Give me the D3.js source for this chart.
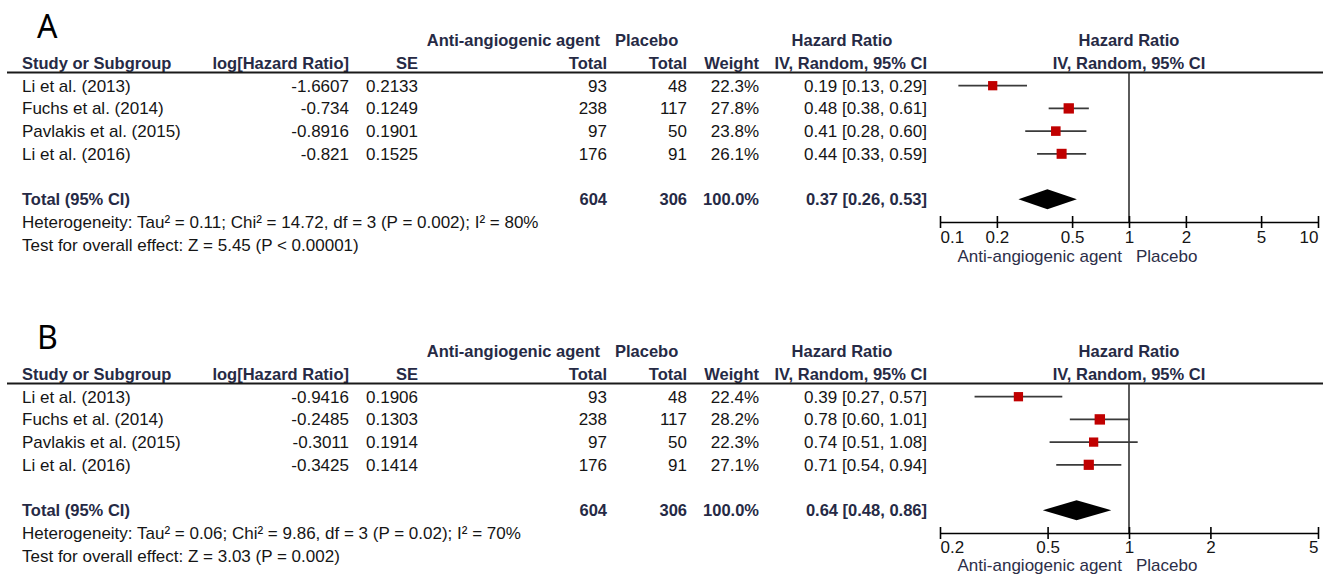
<!DOCTYPE html>
<html>
<head>
<meta charset="utf-8">
<script src="https://cdn.jsdelivr.net/npm/d3@7"></script>
<style>
  html, body { margin: 0; padding: 0; background: #fff; }
  svg { display: block; }
  .reg { font-family: "Liberation Sans", Arial, sans-serif; font-size: 17px; fill: #151515; }
  .hdr { font-family: "Liberation Sans", Arial, sans-serif; font-size: 16.5px; font-weight: bold; fill: #262a45; }
  .side { font-family: "Liberation Sans", Arial, sans-serif; font-size: 17px; fill: #2c2e48; }
  .panel { font-family: "Noto Sans", "Open Sans", sans-serif; font-size: 32px; fill: #000; }
</style>
</head>
<body>
<svg id="chart" width="1323" height="575"></svg>
<script>
// Studies included in both meta-analyses
const studies = ["Li et al. (2013)", "Fuchs et al. (2014)", "Pavlakis et al. (2015)", "Li et al. (2016)"];
const expTotals = [93, 238, 97, 176];
const ctlTotals = [48, 117, 50, 91];

// Panel A
const logHrA = [-1.6607, -0.734, -0.8916, -0.821];
const seA = [0.2133, 0.1249, 0.1901, 0.1525];
const weightA = [22.3, 27.8, 23.8, 26.1];
const pooledA = [0.37, 0.26, 0.53];          // estimate, lower, upper
const hetA = "Heterogeneity: Tau\u00B2 = 0.11; Chi\u00B2 = 14.72, df = 3 (P = 0.002); I\u00B2 = 80%";
const testA = "Test for overall effect: Z = 5.45 (P < 0.00001)";
const domainA = [0.1, 10];
const ticksA = [0.1, 0.2, 0.5, 1, 2, 5, 10];

// Panel B
const logHrB = [-0.9416, -0.2485, -0.3011, -0.3425];
const seB = [0.1906, 0.1303, 0.1914, 0.1414];
const weightB = [22.4, 28.2, 22.3, 27.1];
const pooledB = [0.64, 0.48, 0.86];
const hetB = "Heterogeneity: Tau\u00B2 = 0.06; Chi\u00B2 = 9.86, df = 3 (P = 0.02); I\u00B2 = 70%";
const testB = "Test for overall effect: Z = 3.03 (P = 0.002)";
const domainB = [0.2, 5];
const ticksB = [0.2, 0.5, 1, 2, 5];

const expLabel = "Anti-angiogenic agent";
const ctlLabel = "Placebo";

const svg = d3.select("#chart");
const f2 = d3.format(".2f");
const f1 = d3.format(".1f");

// column anchors
const col = { study: 22, logHr: 349, se: 418, exp: 607, ctl: 687, weight: 759, ci: 927 };
const plotL = 940, plotR = 1318;

function drawPanel(letter, top, logHr, se, weight, pooled, het, test, domain, ticks, tickY, sideY) {
  const g = svg.append("g").attr("transform", `translate(0,${top})`);
  const rowY = i => 85.7 + 22.7 * i;      // vertical centre of table row i
  const base = i => rowY(i) + 6;          // text baseline of row i

  g.append("text").attr("class", "panel").attr("x", 37).attr("y", 38).text(letter);

  const x = d3.scaleLog().domain(domain).range([plotL, plotR]);

  // header rows
  const h1 = base(-2), h2 = base(-1);
  g.append("text").attr("class", "hdr").attr("x", 600).attr("y", h1).attr("text-anchor", "end").text(expLabel);
  g.append("text").attr("class", "hdr").attr("x", 615).attr("y", h1).text(ctlLabel);
  g.append("text").attr("class", "hdr").attr("x", 842).attr("y", h1).attr("text-anchor", "middle").text("Hazard Ratio");
  g.append("text").attr("class", "hdr").attr("x", x(1)).attr("y", h1).attr("text-anchor", "middle").text("Hazard Ratio");

  const hdr2 = [
    ["Study or Subgroup", col.study, "start"],
    ["log[Hazard Ratio]", col.logHr, "end"],
    ["SE", col.se, "end"],
    ["Total", col.exp, "end"],
    ["Total", col.ctl, "end"],
    ["Weight", col.weight, "end"],
    ["IV, Random, 95% CI", col.ci, "end"],
    ["IV, Random, 95% CI", x(1), "middle"]
  ];
  g.selectAll("text.h2").data(hdr2).join("text")
    .attr("class", "hdr h2")
    .attr("x", d => d[1]).attr("y", h2)
    .attr("text-anchor", d => d[2])
    .text(d => d[0]);

  // rule under headers
  const ruleY = 72.5;
  g.append("line").attr("x1", 7).attr("x2", 1323).attr("y1", ruleY).attr("y2", ruleY)
    .attr("stroke", "#1a1a1a").attr("stroke-width", 2);

  // study rows
  const rows = studies.map((s, i) => {
    const hr = Math.exp(logHr[i]);
    const lo = Math.exp(logHr[i] - 1.96 * se[i]);
    const hi = Math.exp(logHr[i] + 1.96 * se[i]);
    return { s, i, logHr: logHr[i], se: se[i], exp: expTotals[i], ctl: ctlTotals[i], w: weight[i], hr, lo, hi };
  });

  const cells = [
    [d => d.s, col.study, "start"],
    [d => String(d.logHr), col.logHr, "end"],
    [d => String(d.se), col.se, "end"],
    [d => d.exp, col.exp, "end"],
    [d => d.ctl, col.ctl, "end"],
    [d => f1(d.w) + "%", col.weight, "end"],
    [d => `${f2(d.hr)} [${f2(d.lo)}, ${f2(d.hi)}]`, col.ci, "end"]
  ];
  cells.forEach(([fn, cx, anchor]) => {
    g.append("g").selectAll("text").data(rows).join("text")
      .attr("class", "reg")
      .attr("x", cx).attr("y", d => base(d.i))
      .attr("text-anchor", anchor)
      .text(fn);
  });

  // total row
  const ti = 5;
  const totalExp = d3.sum(expTotals), totalCtl = d3.sum(ctlTotals), totalW = d3.sum(weight);
  const totals = [
    ["Total (95% CI)", col.study, "start"],
    [String(totalExp), col.exp, "end"],
    [String(totalCtl), col.ctl, "end"],
    [f1(Math.round(totalW)) + "%", col.weight, "end"],
    [`${f2(pooled[0])} [${f2(pooled[1])}, ${f2(pooled[2])}]`, col.ci, "end"]
  ];
  g.append("g").selectAll("text").data(totals).join("text")
    .attr("class", "hdr")
    .attr("x", d => d[1]).attr("y", base(ti))
    .attr("text-anchor", d => d[2])
    .text(d => d[0]);

  g.append("text").attr("class", "reg").attr("x", col.study).attr("y", base(6)).text(het);
  g.append("text").attr("class", "reg").attr("x", col.study).attr("y", base(7)).text(test);

  // forest plot
  const axisY = 222;
  g.append("line").attr("x1", x(1)).attr("x2", x(1)).attr("y1", ruleY).attr("y2", axisY)
    .attr("stroke", "#333").attr("stroke-width", 1.6);

  g.append("g").selectAll("line").data(rows).join("line")
    .attr("x1", d => x(Math.max(d.lo, domain[0]))).attr("x2", d => x(Math.min(d.hi, domain[1])))
    .attr("y1", d => rowY(d.i)).attr("y2", d => rowY(d.i))
    .attr("stroke", "#3a3a3a").attr("stroke-width", 1.8);

  g.append("g").selectAll("rect").data(rows).join("rect")
    .attr("x", d => x(d.hr) - Math.sqrt(d.w) * 0.98)
    .attr("y", d => rowY(d.i) - Math.sqrt(d.w) * 0.98)
    .attr("width", d => Math.sqrt(d.w) * 1.96)
    .attr("height", d => Math.sqrt(d.w) * 1.96)
    .attr("fill", "#c00000");

  const dy = rowY(ti);
  const dh = 10;
  g.append("path")
    .attr("d", `M${x(pooled[1])},${dy} L${x(pooled[0])},${dy - dh} L${x(pooled[2])},${dy} L${x(pooled[0])},${dy + dh} Z`)
    .attr("fill", "#000");

  // axis
  const axis = d3.axisBottom(x).tickValues(ticks).tickFormat(d => String(d)).tickSize(6).tickSizeOuter(0);
  const ax = g.append("g").attr("transform", `translate(0,${axisY})`).call(axis);
  ax.select(".domain").attr("stroke", "#000").attr("stroke-width", 1.6);
  ax.selectAll(".tick line").attr("y1", -6).attr("y2", 6).attr("stroke", "#000").attr("stroke-width", 1.6);
  ax.selectAll(".tick text")
    .attr("class", "reg")
    .attr("y", tickY).attr("dy", 0)
    .style("font-family", "'Liberation Sans', Arial, sans-serif").style("font-size", "17px")
    .attr("fill", "#151515")
    .attr("text-anchor", (d, i) => i === 0 ? "start" : (i === ticks.length - 1 ? "end" : "middle"));

  g.append("text").attr("class", "side").attr("x", x(1) - 7).attr("y", sideY).attr("text-anchor", "end").text(expLabel);
  g.append("text").attr("class", "side").attr("x", x(1) + 7).attr("y", sideY).text(ctlLabel);
}

drawPanel("A", 0, logHrA, seA, weightA, pooledA, hetA, testA, domainA, ticksA, 21, 262);
drawPanel("B", 311, logHrB, seB, weightB, pooledB, hetB, testB, domainB, ticksB, 19.5, 260);
</script>
</body>
</html>
